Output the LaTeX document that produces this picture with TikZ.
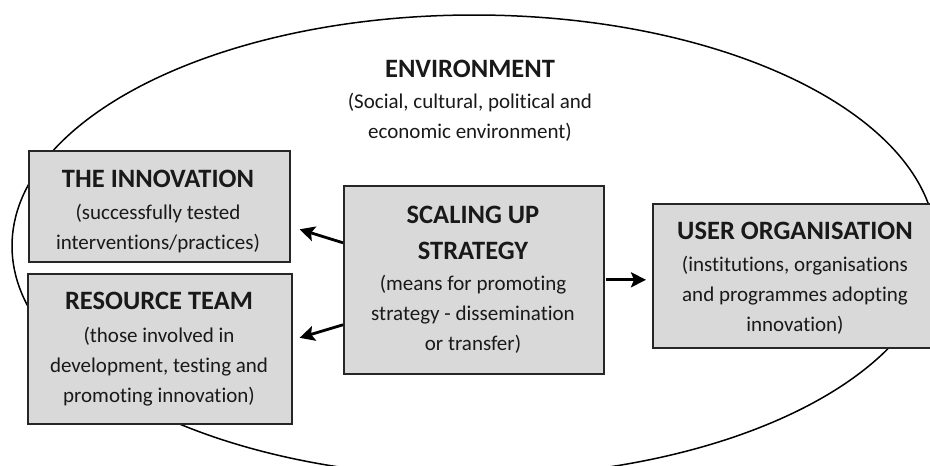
\documentclass[tikz,border=0pt]{standalone}
\usepackage{fontspec}
\setmainfont{Carlito}[Ligatures=NoCommon]
\usetikzlibrary{arrows.meta}
\begin{document}
\begin{tikzpicture}[x=1pt,y=-1pt,
  box/.style={draw=black!85, line width=1.6pt, fill=black!15, inner sep=0pt, anchor=north west},
  txt/.style={font=\fontsize{21}{30}\selectfont, align=center, inner sep=0pt, anchor=base, text=black!90},
  ttl/.style={font=\fontsize{26.5}{36}\selectfont\bfseries, align=center, inner sep=0pt, anchor=base, text=black!90},
  arr/.style={line width=2.8pt, draw=black, -{Stealth[length=15pt,width=15pt,inset=3pt]}},
  env/.style={line width=1.5pt, draw=black}]
\useasboundingbox (0,0) rectangle (930,466);
\draw[env] (474,246) ellipse [x radius=462pt, y radius=231pt];
\node[ttl] (envh) at (470,77) {ENVIRONMENT};
\node[txt] (envt) at (470,138) {(Social, cultural, political and\\economic environment)};

\node[box, minimum width=261pt, minimum height=111pt] (inn) at (28,150) {};
\node[box, minimum width=264pt, minimum height=150pt] (res) at (27,273) {};
\node[box, minimum width=260pt, minimum height=188pt] (scal) at (343,185) {};
\node[box, minimum width=280pt, minimum height=144pt] (user) at (652,203) {};

\node[ttl] (innh) at (158,187) {THE INNOVATION};
\node[txt] (innt) at (158,249) {(successfully tested\\interventions/practices)};
\node[ttl] (resh) at (159,309) {RESOURCE TEAM};
\node[txt] (rest) at (159,402) {(those involved in\\development, testing and\\promoting innovation)};
\node[ttl] (scalh) at (473,259) {SCALING UP\\STRATEGY};
\node[txt] (scalt) at (473,350) {(means for promoting\\strategy - dissemination\\or transfer)};
\node[ttl] (userh) at (795,239.3) {USER ORGANISATION};
\node[txt] (usert) at (795,331) {(institutions, organisations\\and programmes adopting\\innovation)};

\draw[arr] ([yshift=37pt]scal.west) -- ([xshift=9pt,yshift=-23pt]inn.east);
\draw[arr] ([yshift=-45pt]scal.west) -- ([xshift=7pt,yshift=11pt]res.east);
\draw[arr] ([xshift=1pt]scal.east) -- ([xshift=-6pt,yshift=-4pt]user.west);
\end{tikzpicture}
\end{document}
